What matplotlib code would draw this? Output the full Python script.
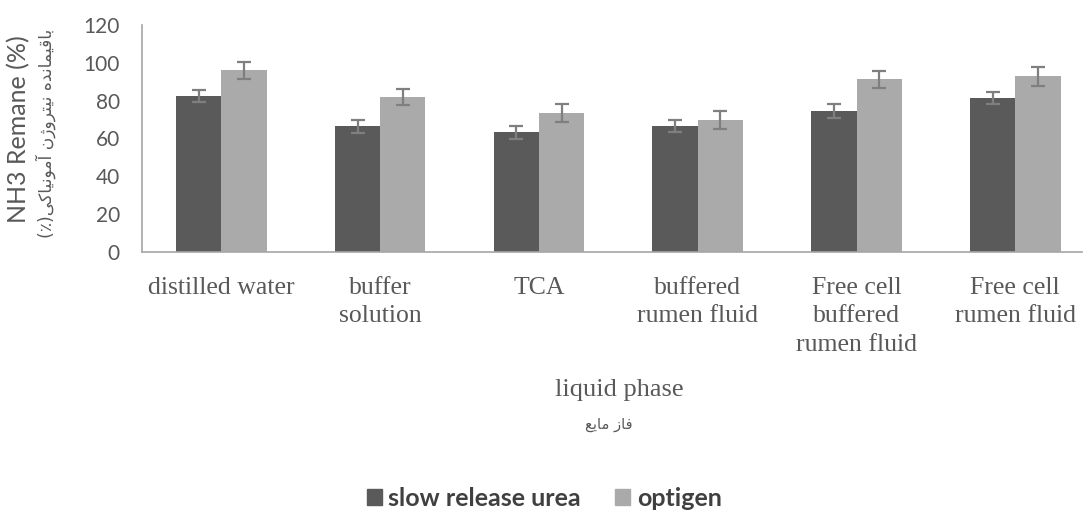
import numpy as np
import matplotlib.pyplot as plt
from matplotlib.patches import Patch

categories = ['distilled water', 'buffer\nsolution', 'TCA', 'buffered\nrumen fluid',
              'Free cell\nbuffered\nrumen fluid', 'Free cell\nrumen fluid']
slow_release = [82.6, 66.5, 63.2, 66.5, 74.5, 81.3]
slow_err = [3.3, 3.5, 3.2, 3.3, 3.7, 3.1]
optigen = [96.2, 81.8, 73.6, 69.6, 91.3, 92.8]
optigen_err = [4.5, 4.3, 4.8, 4.8, 4.5, 4.8]
yticks = [0, 20, 40, 60, 80, 100, 120]

# minimal Persian shaping (matplotlib has no bidi / joining support)
FORMS = {
    'ا': ('\uFE8D', '\uFE8E', None, None), 'آ': ('\uFE81', '\uFE82', None, None),
    'ب': ('\uFE8F', '\uFE90', '\uFE91', '\uFE92'), 'ت': ('\uFE95', '\uFE96', '\uFE97', '\uFE98'),
    'د': ('\uFEA9', '\uFEAA', None, None), 'ر': ('\uFEAD', '\uFEAE', None, None),
    'ز': ('\uFEAF', '\uFEB0', None, None), 'ژ': ('\uFB8A', '\uFB8B', None, None),
    'ع': ('\uFEC9', '\uFECA', '\uFECB', '\uFECC'), 'ف': ('\uFED1', '\uFED2', '\uFED3', '\uFED4'),
    'ق': ('\uFED5', '\uFED6', '\uFED7', '\uFED8'), 'ک': ('\uFB8E', '\uFB8F', '\uFB90', '\uFB91'),
    'م': ('\uFEE1', '\uFEE2', '\uFEE3', '\uFEE4'), 'ن': ('\uFEE5', '\uFEE6', '\uFEE7', '\uFEE8'),
    'ه': ('\uFEE9', '\uFEEA', '\uFEEB', '\uFEEC'), 'و': ('\uFEED', '\uFEEE', None, None),
    'ی': ('\uFBFC', '\uFBFD', '\uFBFE', '\uFBFF'),
}


def persian(text):
    out = []
    for i, c in enumerate(text):
        if c not in FORMS:
            out.append(c)
            continue
        prev = text[i - 1] if i > 0 else ''
        nxt = text[i + 1] if i + 1 < len(text) else ''
        jp = prev in FORMS and FORMS[prev][2] is not None
        jn = nxt in FORMS and FORMS[c][2] is not None
        f = FORMS[c]
        out.append(f[3] if jp and jn else f[1] if jp else f[2] if jn else f[0])
    vis = ''.join(reversed(out))
    return vis.translate(str.maketrans('()', ')('))


dark = '#5a5a5a'
light = '#aaaaaa'
grey_txt = '#595959'

fig = plt.figure(figsize=(10.86, 5.12), dpi=100)
ax = fig.add_axes([142 / 1086, 1 - 252 / 512, 940 / 1086, 227 / 512])

x = np.arange(len(categories))
w = 0.285
ekw = dict(ecolor='#7f7f7f', elinewidth=1.6, capsize=5, capthick=1.6)
ax.bar(x - w / 2, slow_release, w, color=dark, yerr=slow_err, error_kw=ekw)
ax.bar(x + w / 2, optigen, w, color=light, yerr=optigen_err, error_kw=ekw)

ax.set_xlim(-0.5, 5.42)
ax.set_ylim(0, 120)
ax.set_yticks(yticks)
ax.set_xticks(x)
ax.set_xticklabels(categories, family='Liberation Serif', fontsize=18.5,
                   color=grey_txt, linespacing=1.38)
for t in ax.get_yticklabels():
    t.set_family('Lato')
    t.set_fontsize(15)
    t.set_color(grey_txt)
ax.tick_params(axis='y', length=0, pad=16)
ax.tick_params(axis='x', length=0, pad=18)
for s in ['top', 'right']:
    ax.spines[s].set_visible(False)
ax.spines['left'].set_color('#a6a6a6')
ax.spines['bottom'].set_color('#a6a6a6')
ax.spines['left'].set_linewidth(1.2)
ax.spines['bottom'].set_linewidth(1.2)

fig.text(19 / 1086, 1 - 129 / 512, 'NH3 Remane (%)', rotation=90, ha='center', va='center',
         family='Lato', fontsize=18, color=grey_txt)
fig.text(46 / 1086, 1 - 133 / 512, persian('باقیمانده نیتروژن آمونیاکی(٪)'), rotation=90,
         ha='center', va='center', family='DejaVu Sans', fontsize=12.3, color=grey_txt)

fig.text(619 / 1086, 1 - 390 / 512, 'liquid phase', ha='center', va='center',
         family='Liberation Serif', fontsize=19, color=grey_txt)
fig.text(609 / 1086, 1 - 424 / 512, persian('فاز مایع'), ha='center', va='center',
         family='DejaVu Sans', fontsize=10.5, color=grey_txt)

handles = [Patch(color=dark, label='slow release urea'), Patch(color=light, label='optigen')]
fig.legend(handles=handles, loc='center', bbox_to_anchor=(544 / 1086, 1 - 498 / 512), ncol=2,
           frameon=False, handlelength=0.6, handleheight=0.6, handletextpad=0.25,
           columnspacing=1.4, prop={'family': 'Lato', 'weight': 'bold', 'size': 18},
           labelcolor='#404040')

fig.savefig('out.png', dpi=100)
